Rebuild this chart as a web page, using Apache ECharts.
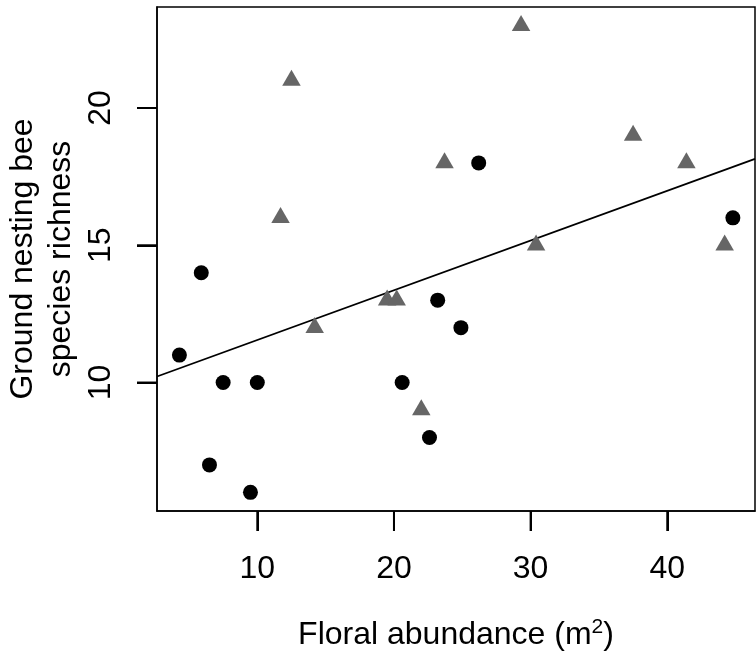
<!DOCTYPE html>
<html>
<head>
<meta charset="utf-8">
<script src="https://cdn.jsdelivr.net/npm/echarts@6/dist/echarts.min.js"></script>
<style>html,body{margin:0;padding:0;background:#fff;}#c{width:756px;height:666px;}</style>
</head>
<body>
<div id="c"></div>
<script>
// Data
const circX = [4.3, 5.9, 6.5, 7.5, 9.5, 10.0, 20.6, 22.6, 23.2, 24.9, 26.2, 44.8];
const circY = [11, 14, 7, 10, 6, 10, 10, 8, 13, 12, 18, 16];
const triX = [11.7, 12.5, 14.2, 19.5, 20.2, 22.0, 23.7, 29.3, 30.4, 37.5, 41.4, 44.2];
const triY = [16, 21, 12, 13, 13, 9, 18, 23, 15, 19, 18, 15];
const fitX = [2.66, 46.42];
const fitY = [10.22, 18.15];
const xTicks = [10, 20, 30, 40];
const yTicks = [10, 15, 20];
const xRange = [2.66, 46.42];
const yRange = [5.32, 23.68];

const zip = (a, b) => a.map((v, i) => [v, b[i]]);
const font = 'Liberation Sans, Arial, sans-serif';
const TICK = 20;

const chart = echarts.init(document.getElementById('c'), null, {renderer: 'canvas'});
chart.setOption({
  animation: false,
  grid: {left: 157, right: 1, top: 7, bottom: 155, outerBoundsMode: 'none',
    show: true, borderColor: '#000', borderWidth: 1.5},
  xAxis: {
    type: 'value', min: xRange[0], max: xRange[1],
    axisLine: {show: true, lineStyle: {color: '#000', width: 1.5}},
    splitLine: {show: false},
    axisTick: {show: true, length: TICK, customValues: xTicks, lineStyle: {color: '#000', width: 2}},
    axisLabel: {customValues: xTicks, margin: 42, fontSize: 32, color: '#000', fontFamily: font},
    name: 'Floral abundance (m{sup|2})',
    nameLocation: 'middle', nameGap: 106, nameMoveOverlap: false,
    nameTextStyle: {fontSize: 32, color: '#000', fontFamily: font, lineHeight: 36,
      rich: {sup: {fontSize: 21, color: '#000', fontFamily: font, verticalAlign: 'top', lineHeight: 36}}}
  },
  yAxis: {
    type: 'value', min: yRange[0], max: yRange[1],
    axisLine: {show: true, lineStyle: {color: '#000', width: 1.5}},
    splitLine: {show: false},
    axisTick: {show: true, length: TICK, customValues: yTicks, lineStyle: {color: '#000', width: 2}},
    axisLabel: {customValues: yTicks, rotate: 90, margin: 40, fontSize: 32, color: '#000', fontFamily: font},
    name: 'Ground nesting bee\nspecies richness',
    nameLocation: 'middle', nameRotate: 90, nameGap: 77, nameMoveOverlap: false,
    nameTextStyle: {fontSize: 32, color: '#000', fontFamily: font, lineHeight: 38}
  },
  series: [
    {type: 'line', data: zip(fitX, fitY), symbol: 'none', lineStyle: {color: '#000', width: 1.8}, z: 1},
    {type: 'scatter', data: zip(circX, circY), symbol: 'circle', symbolSize: 15, itemStyle: {color: '#000', opacity: 1}, z: 3},
    {type: 'scatter', data: zip(triX, triY), symbol: 'triangle', symbolSize: [18.5, 16], symbolOffset: [0, -2.7], itemStyle: {color: '#666666', opacity: 1}, z: 2}
  ]
});

// Redundant tick marks placed through the chart's own axis scales
try {
  const tickEls = [];
  xTicks.forEach(v => {
    const p = chart.convertToPixel({xAxisIndex: 0, yAxisIndex: 0}, [v, yRange[0]]);
    if (p && isFinite(p[0]) && isFinite(p[1])) {
      tickEls.push({type: 'line', shape: {x1: p[0], y1: p[1], x2: p[0], y2: p[1] + TICK}, style: {stroke: '#000', lineWidth: 2}});
    }
  });
  yTicks.forEach(v => {
    const p = chart.convertToPixel({xAxisIndex: 0, yAxisIndex: 0}, [xRange[0], v]);
    if (p && isFinite(p[0]) && isFinite(p[1])) {
      tickEls.push({type: 'line', shape: {x1: p[0], y1: p[1], x2: p[0] - TICK, y2: p[1]}, style: {stroke: '#000', lineWidth: 2}});
    }
  });
  if (tickEls.length) chart.setOption({graphic: tickEls});
} catch (e) {}
</script>
</body>
</html>
